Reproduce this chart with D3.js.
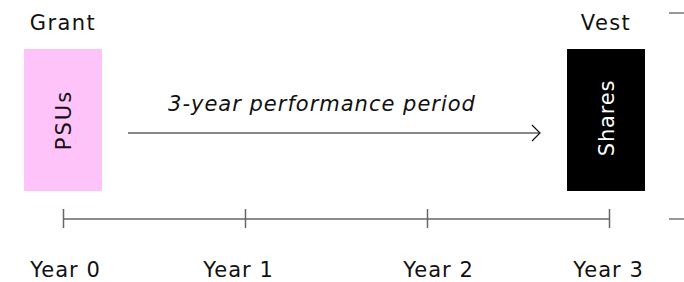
<!DOCTYPE html>
<html>
<head>
<meta charset="utf-8">
<script src="https://cdn.jsdelivr.net/npm/d3@7"></script>
<style>
    body { margin: 0; background: #fff; }
    text { font-family: "DejaVu Sans", sans-serif; fill: #111; }
</style>
</head>
<body>
<div id="chart"></div>
<script>
// timeline data
let years = [0, 1, 2, 3];
let yearLabels = ["Year 0", "Year 1", "Year 2", "Year 3"];
let stages = ["Grant", "Vest"];
let stageYears = [0, 3];
let boxLabels = ["PSUs", "Shares"];
let periodLabel = "3-year performance period";

let width = 684, height = 282;

let svg = d3.select("#chart").append("svg")
    .attr("width", width)
    .attr("height", height);

let x = d3.scaleLinear()
    .domain([0, 3])
    .range([63, 609]);

let y = d3.scaleLinear()
    .domain([0, 1])
    .range([191, 49]);

let boxW = 78;
let boxShift = [0, -3];
let labelNudge = [2, -7, 11, -1];
let boxColors = ["#fec3f8", "#000"];

// axis along the bottom
let axis = d3.axisBottom(x)
    .tickValues(years)
    .tickSize(0)
    .tickFormat((d, i) => yearLabels[i]);

let axisG = svg.append("g")
    .attr("transform", "translate(0,219)")
    .call(axis);

axisG.select(".domain")
    .attr("stroke", "#666")
    .attr("stroke-width", 1.5)
    .attr("d", `M${x(0)},0H${x(3)}`);

axisG.selectAll(".tick line")
    .attr("stroke", "#666")
    .attr("stroke-width", 1.5)
    .attr("y1", -10)
    .attr("y2", 9);

axisG.selectAll(".tick text")
    .attr("x", (d, i) => labelNudge[i])
    .attr("y", 58)
    .attr("dy", 0)
    .attr("fill", "#111")
    .attr("font-family", "DejaVu Sans, sans-serif")
    .style("font-size", "21px")
    .style("letter-spacing", "1px");

// stub lines at the right edge
svg.selectAll("line.stub")
    .data([13, 219])
    .enter().append("line")
    .classed("stub", true)
    .attr("x1", 669)
    .attr("x2", width)
    .attr("y1", d => d)
    .attr("y2", d => d)
    .attr("stroke", "#777")
    .attr("stroke-width", 1.5);

// stage headers
svg.selectAll("text.stage")
    .data(stages)
    .enter().append("text")
    .classed("stage", true)
    .attr("x", (d, i) => x(stageYears[i]) + boxShift[i])
    .attr("y", 30)
    .attr("text-anchor", "middle")
    .style("font-size", "21px")
    .style("letter-spacing", "1.4px")
    .text(d => d);

// boxes
svg.selectAll("rect.box")
    .data(stageYears)
    .enter().append("rect")
    .classed("box", true)
    .attr("x", (d, i) => x(d) + boxShift[i] - boxW / 2)
    .attr("y", y(1))
    .attr("width", boxW)
    .attr("height", y(0) - y(1))
    .attr("fill", (d, i) => boxColors[i]);

svg.selectAll("text.boxlbl")
    .data(boxLabels)
    .enter().append("text")
    .classed("boxlbl", true)
    .attr("transform", (d, i) => `translate(${x(stageYears[i]) + boxShift[i] + 8},${y(0.5) - 2 * i}) rotate(-90)`)
    .attr("text-anchor", "middle")
    .style("font-size", "21px")
    .style("letter-spacing", (d, i) => i ? "0.8px" : "2px")
    .style("fill", (d, i) => i ? "#fff" : "#111")
    .text(d => d);

// performance period arrow
let arrowY = 133;
let x0 = x(0) + 65, x1 = x(3) - 69;

svg.append("line")
    .attr("x1", x0)
    .attr("x2", x1)
    .attr("y1", arrowY)
    .attr("y2", arrowY)
    .attr("stroke", "#111")
    .attr("stroke-width", 1.2);

svg.append("path")
    .attr("d", `M${x1 - 8},${arrowY - 8}L${x1},${arrowY}L${x1 - 8},${arrowY + 8}`)
    .attr("fill", "none")
    .attr("stroke", "#111")
    .attr("stroke-width", 1.2);

svg.append("text")
    .attr("x", 322)
    .attr("y", 111)
    .attr("text-anchor", "middle")
    .style("font-size", "21px")
    .style("letter-spacing", "1px")
    .style("font-style", "italic")
    .text(periodLabel);
</script>
</body>
</html>
